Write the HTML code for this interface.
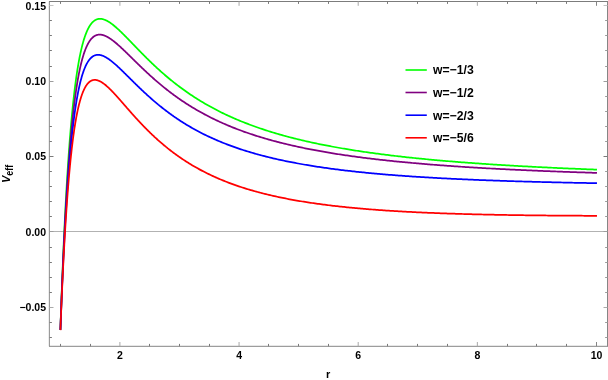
<!DOCTYPE html>
<html><head><meta charset="utf-8"><title>Veff</title>
<style>
html,body{margin:0;padding:0;background:#fff;}
body{width:608px;height:380px;position:relative;overflow:hidden;font-family:"Liberation Sans",sans-serif;font-weight:bold;color:#000;}
.t{position:absolute;white-space:nowrap;line-height:1;}
#tx{position:absolute;left:0;top:0;width:608px;height:380px;will-change:transform;}
.yl{font-size:10.5px;text-align:right;width:40px;left:6px;}
.xl{font-size:10.5px;text-align:center;width:30px;}
.lg{font-size:12.2px;left:433px;}
</style></head><body>
<svg width="608" height="380" viewBox="0 0 608 380" style="position:absolute;left:0;top:0">
<line x1="49.50" y1="231.50" x2="607.50" y2="231.50" stroke="#b2b2b2" stroke-width="1"/>
<path d="M60.41 329.78 L60.71 320.91 L61.01 312.29 L61.30 303.89 L61.60 295.73 L61.90 287.78 L62.20 280.05 L62.50 272.53 L62.80 265.21 L63.09 258.09 L63.39 251.15 L63.69 244.41 L63.99 237.84 L64.29 231.45 L64.59 225.23 L64.89 219.18 L65.18 213.29 L65.48 207.56 L65.78 201.98 L66.08 196.55 L66.38 191.26 L66.68 186.12 L66.97 181.11 L67.27 176.23 L67.57 171.49 L67.87 166.87 L68.17 162.38 L68.47 158.01 L68.76 153.75 L69.06 149.61 L69.36 145.57 L69.66 141.65 L69.96 137.83 L70.26 134.11 L70.55 130.49 L70.85 126.97 L71.15 123.55 L71.45 120.21 L71.75 116.97 L72.05 113.81 L72.35 110.74 L72.64 107.76 L72.94 104.85 L73.24 102.02 L73.54 99.27 L73.84 96.60 L74.14 93.99 L74.43 91.46 L74.73 89.00 L75.03 86.61 L75.33 84.28 L75.63 82.01 L75.93 79.81 L76.22 77.68 L76.52 75.60 L76.82 73.57 L77.12 71.61 L77.42 69.70 L77.72 67.85 L78.01 66.05 L78.31 64.29 L78.61 62.59 L78.91 60.94 L79.21 59.34 L79.51 57.78 L79.81 56.27 L80.10 54.81 L80.40 53.38 L80.70 52.00 L81.00 50.66 L81.30 49.36 L81.60 48.10 L81.89 46.88 L82.19 45.70 L82.49 44.55 L82.79 43.44 L83.09 42.36 L83.39 41.32 L83.68 40.31 L83.98 39.33 L84.28 38.39 L84.58 37.47 L84.88 36.59 L85.18 35.73 L85.47 34.90 L85.77 34.11 L86.07 33.34 L86.37 32.59 L86.67 31.87 L86.97 31.18 L87.27 30.51 L87.56 29.87 L87.86 29.25 L88.16 28.65 L88.46 28.08 L88.76 27.53 L89.06 27.00 L89.35 26.49 L89.65 26.00 L89.95 25.54 L90.25 25.09 L90.55 24.66 L90.85 24.25 L91.14 23.86 L91.44 23.48 L91.74 23.13 L92.04 22.79 L92.34 22.46 L92.64 22.16 L92.93 21.87 L93.23 21.59 L93.53 21.33 L93.83 21.09 L94.13 20.86 L94.43 20.64 L94.73 20.44 L95.02 20.25 L95.32 20.07 L95.62 19.91 L95.92 19.76 L96.22 19.62 L96.52 19.50 L96.81 19.38 L97.11 19.28 L97.41 19.19 L97.71 19.11 L98.01 19.03 L98.31 18.97 L98.60 18.93 L98.90 18.89 L99.20 18.85 L99.50 18.83 L99.80 18.82 L100.10 18.82 L100.39 18.83 L100.69 18.84 L100.99 18.86 L101.29 18.89 L101.59 18.93 L101.89 18.98 L102.19 19.04 L102.48 19.10 L102.78 19.17 L103.08 19.24 L103.38 19.33 L103.68 19.42 L103.98 19.51 L104.27 19.62 L104.57 19.72 L104.87 19.84 L105.17 19.96 L105.47 20.09 L105.77 20.22 L106.06 20.36 L106.36 20.50 L106.66 20.65 L106.96 20.80 L107.26 20.96 L107.56 21.13 L107.85 21.30 L108.15 21.47 L108.45 21.65 L108.75 21.83 L109.05 22.01 L109.35 22.20 L109.64 22.40 L109.94 22.60 L110.24 22.80 L110.54 23.01 L110.84 23.22 L111.14 23.43 L111.44 23.64 L111.73 23.86 L112.03 24.09 L112.33 24.31 L112.63 24.54 L112.93 24.78 L113.23 25.01 L113.52 25.25 L113.82 25.49 L114.12 25.73 L114.42 25.98 L114.72 26.23 L115.02 26.48 L115.31 26.74 L115.61 26.99 L115.91 27.25 L116.21 27.51 L116.51 27.77 L116.81 28.04 L117.10 28.30 L117.40 28.57 L117.70 28.84 L118.00 29.12 L118.30 29.39 L118.60 29.67 L118.90 29.94 L119.19 30.22 L119.49 30.50 L119.79 30.78 L120.09 31.07 L120.39 31.35 L120.69 31.64 L120.98 31.93 L121.28 32.21 L121.58 32.50 L121.88 32.80 L122.18 33.09 L122.48 33.38 L122.77 33.68 L123.07 33.97 L123.37 34.27 L123.67 34.56 L123.97 34.86 L124.27 35.16 L124.56 35.46 L124.86 35.76 L125.16 36.06 L125.46 36.36 L125.76 36.67 L126.06 36.97 L126.36 37.27 L126.65 37.58 L126.95 37.88 L127.25 38.19 L127.55 38.49 L127.85 38.80 L128.15 39.11 L128.44 39.41 L128.74 39.72 L129.04 40.03 L129.34 40.34 L129.64 40.64 L129.94 40.95 L130.23 41.26 L130.53 41.57 L130.83 41.88 L131.13 42.19 L131.43 42.50 L131.73 42.81 L132.02 43.12 L132.32 43.43 L132.62 43.74 L132.92 44.04 L133.22 44.35 L133.52 44.66 L133.82 44.97 L134.11 45.28 L134.41 45.59 L134.71 45.90 L135.01 46.21 L135.31 46.52 L135.61 46.83 L135.90 47.14 L136.20 47.45 L136.50 47.76 L136.80 48.07 L137.10 48.37 L137.40 48.68 L137.69 48.99 L137.99 49.30 L138.29 49.61 L138.59 49.91 L138.89 50.22 L139.19 50.53 L139.48 50.83 L139.78 51.14 L140.08 51.44 L140.38 51.75 L140.68 52.05 L140.98 52.36 L141.28 52.66 L141.57 52.97 L141.87 53.27 L142.17 53.57 L142.47 53.87 L142.77 54.18 L143.07 54.48 L143.36 54.78 L143.66 55.08 L143.96 55.38 L144.26 55.68 L144.56 55.98 L144.86 56.28 L145.15 56.58 L145.45 56.88 L145.75 57.17 L146.05 57.47 L146.35 57.77 L146.65 58.06 L146.94 58.36 L147.24 58.65 L147.54 58.95 L147.84 59.24 L148.14 59.53 L148.44 59.83 L148.74 60.12 L149.03 60.41 L149.33 60.70 L149.63 60.99 L149.93 61.28 L150.23 61.57 L150.53 61.86 L150.82 62.15 L151.12 62.44 L151.42 62.72 L151.72 63.01 L152.02 63.29 L152.32 63.58 L152.61 63.86 L152.91 64.15 L153.21 64.43 L153.51 64.71 L153.81 65.00 L154.11 65.28 L154.40 65.56 L154.70 65.84 L155.00 66.12 L155.30 66.40 L155.60 66.67 L155.90 66.95 L156.19 67.23 L156.49 67.50 L156.79 67.78 L157.09 68.05 L157.39 68.33 L157.69 68.60 L157.99 68.88 L158.28 69.15 L158.58 69.42 L158.88 69.69 L159.18 69.96 L159.48 70.23 L159.78 70.50 L160.07 70.77 L160.37 71.03 L160.67 71.30 L160.97 71.57 L161.27 71.83 L161.57 72.10 L161.86 72.36 L162.16 72.62 L162.46 72.89 L162.76 73.15 L163.06 73.41 L163.36 73.67 L163.65 73.93 L163.95 74.19 L164.25 74.45 L164.55 74.71 L164.85 74.96 L165.15 75.22 L165.45 75.48 L165.74 75.73 L166.04 75.99 L166.34 76.24 L166.64 76.49 L166.94 76.75 L167.24 77.00 L167.53 77.25 L167.83 77.50 L168.13 77.75 L168.43 78.00 L168.73 78.25 L169.03 78.49 L169.32 78.74 L169.62 78.99 L169.92 79.23 L170.22 79.48 L170.52 79.72 L170.82 79.97 L171.11 80.21 L171.41 80.45 L171.71 80.69 L172.01 80.93 L172.31 81.17 L172.61 81.41 L172.91 81.65 L173.20 81.89 L173.50 82.13 L173.80 82.36 L174.10 82.60 L174.40 82.84 L174.70 83.07 L174.99 83.30 L175.29 83.54 L175.59 83.77 L175.89 84.00 L176.19 84.23 L176.49 84.46 L176.78 84.69 L177.08 84.92 L177.38 85.15 L177.68 85.38 L177.98 85.61 L178.28 85.83 L178.57 86.06 L178.87 86.29 L179.17 86.51 L179.47 86.74 L180.87 87.78 L182.26 88.80 L183.66 89.81 L185.06 90.81 L186.45 91.80 L187.85 92.77 L189.24 93.72 L190.64 94.67 L192.04 95.60 L193.43 96.52 L194.83 97.42 L196.23 98.31 L197.62 99.19 L199.02 100.06 L200.41 100.92 L201.81 101.76 L203.21 102.59 L204.60 103.41 L206.00 104.22 L207.40 105.02 L208.79 105.80 L210.19 106.58 L211.59 107.34 L212.98 108.10 L214.38 108.84 L215.77 109.58 L217.17 110.30 L218.57 111.01 L219.96 111.72 L221.36 112.41 L222.76 113.09 L224.15 113.77 L225.55 114.43 L226.95 115.09 L228.34 115.74 L229.74 116.38 L231.13 117.01 L232.53 117.63 L233.93 118.24 L235.32 118.85 L236.72 119.44 L238.12 120.03 L239.51 120.61 L240.91 121.19 L242.30 121.75 L243.70 122.31 L245.10 122.86 L246.49 123.41 L247.89 123.94 L249.29 124.47 L250.68 125.00 L252.08 125.51 L253.48 126.02 L254.87 126.52 L256.27 127.02 L257.66 127.51 L259.06 127.99 L260.46 128.47 L261.85 128.94 L263.25 129.41 L264.65 129.87 L266.04 130.32 L267.44 130.77 L268.83 131.21 L270.23 131.65 L271.63 132.08 L273.02 132.50 L274.42 132.93 L275.82 133.34 L277.21 133.75 L278.61 134.16 L280.01 134.56 L281.40 134.95 L282.80 135.34 L284.19 135.73 L285.59 136.11 L286.99 136.49 L288.38 136.86 L289.78 137.23 L291.18 137.59 L292.57 137.95 L293.97 138.31 L295.37 138.66 L296.76 139.00 L298.16 139.35 L299.55 139.69 L300.95 140.02 L302.35 140.35 L303.74 140.68 L305.14 141.00 L306.54 141.32 L307.93 141.64 L309.33 141.95 L310.72 142.26 L312.12 142.56 L313.52 142.86 L314.91 143.16 L316.31 143.46 L317.71 143.75 L319.10 144.04 L320.50 144.32 L321.90 144.61 L323.29 144.88 L324.69 145.16 L326.08 145.43 L327.48 145.70 L328.88 145.97 L330.27 146.23 L331.67 146.50 L333.07 146.75 L334.46 147.01 L335.86 147.26 L337.25 147.51 L338.65 147.76 L340.05 148.01 L341.44 148.25 L342.84 148.49 L344.24 148.72 L345.63 148.96 L347.03 149.19 L348.43 149.42 L349.82 149.65 L351.22 149.87 L352.61 150.10 L354.01 150.32 L355.41 150.54 L356.80 150.75 L358.20 150.97 L359.60 151.18 L360.99 151.39 L362.39 151.59 L363.79 151.80 L365.18 152.00 L366.58 152.20 L367.97 152.40 L369.37 152.60 L370.77 152.80 L372.16 152.99 L373.56 153.18 L374.96 153.37 L376.35 153.56 L377.75 153.74 L379.14 153.93 L380.54 154.11 L381.94 154.29 L383.33 154.47 L384.73 154.65 L386.13 154.82 L387.52 154.99 L388.92 155.17 L390.32 155.34 L391.71 155.51 L393.11 155.67 L394.50 155.84 L395.90 156.00 L397.30 156.16 L398.69 156.33 L400.09 156.49 L401.49 156.64 L402.88 156.80 L404.28 156.95 L405.67 157.11 L407.07 157.26 L408.47 157.41 L409.86 157.56 L411.26 157.71 L412.66 157.86 L414.05 158.00 L415.45 158.15 L416.85 158.29 L418.24 158.43 L419.64 158.57 L421.03 158.71 L422.43 158.85 L423.83 158.98 L425.22 159.12 L426.62 159.25 L428.02 159.39 L429.41 159.52 L430.81 159.65 L432.21 159.78 L433.60 159.91 L435.00 160.03 L436.39 160.16 L437.79 160.28 L439.19 160.41 L440.58 160.53 L441.98 160.65 L443.38 160.77 L444.77 160.89 L446.17 161.01 L447.56 161.13 L448.96 161.25 L450.36 161.36 L451.75 161.48 L453.15 161.59 L454.55 161.70 L455.94 161.82 L457.34 161.93 L458.74 162.04 L460.13 162.15 L461.53 162.26 L462.92 162.36 L464.32 162.47 L465.72 162.58 L467.11 162.68 L468.51 162.78 L469.91 162.89 L471.30 162.99 L472.70 163.09 L474.09 163.19 L475.49 163.29 L476.89 163.39 L478.28 163.49 L479.68 163.59 L481.08 163.68 L482.47 163.78 L483.87 163.87 L485.27 163.97 L486.66 164.06 L488.06 164.15 L489.45 164.25 L490.85 164.34 L492.25 164.43 L493.64 164.52 L495.04 164.61 L496.44 164.70 L497.83 164.79 L499.23 164.87 L500.63 164.96 L502.02 165.04 L503.42 165.13 L504.81 165.21 L506.21 165.30 L507.61 165.38 L509.00 165.47 L510.40 165.55 L511.80 165.63 L513.19 165.71 L514.59 165.79 L515.98 165.87 L517.38 165.95 L518.78 166.03 L520.17 166.11 L521.57 166.18 L522.97 166.26 L524.36 166.34 L525.76 166.41 L527.16 166.49 L528.55 166.56 L529.95 166.63 L531.34 166.71 L532.74 166.78 L534.14 166.85 L535.53 166.93 L536.93 167.00 L538.33 167.07 L539.72 167.14 L541.12 167.21 L542.51 167.28 L543.91 167.35 L545.31 167.41 L546.70 167.48 L548.10 167.55 L549.50 167.62 L550.89 167.68 L552.29 167.75 L553.69 167.81 L555.08 167.88 L556.48 167.94 L557.87 168.01 L559.27 168.07 L560.67 168.14 L562.06 168.20 L563.46 168.26 L564.86 168.32 L566.25 168.38 L567.65 168.45 L569.05 168.51 L570.44 168.57 L571.84 168.63 L573.23 168.69 L574.63 168.74 L576.03 168.80 L577.42 168.86 L578.82 168.92 L580.22 168.98 L581.61 169.03 L583.01 169.09 L584.40 169.15 L585.80 169.20 L587.20 169.26 L588.59 169.31 L589.99 169.37 L591.39 169.42 L592.78 169.48 L594.18 169.53 L595.58 169.58 L596.97 169.64" fill="none" stroke="#00ff00" stroke-width="1.75" stroke-linejoin="round"/>
<path d="M60.41 329.89 L60.71 321.40 L61.01 313.13 L61.30 305.10 L61.60 297.28 L61.90 289.67 L62.20 282.27 L62.50 275.07 L62.80 268.07 L63.09 261.26 L63.39 254.63 L63.69 248.18 L63.99 241.90 L64.29 235.80 L64.59 229.85 L64.89 224.07 L65.18 218.45 L65.48 212.98 L65.78 207.65 L66.08 202.47 L66.38 197.42 L66.68 192.52 L66.97 187.74 L67.27 183.10 L67.57 178.57 L67.87 174.18 L68.17 169.89 L68.47 165.73 L68.76 161.68 L69.06 157.73 L69.36 153.89 L69.66 150.16 L69.96 146.53 L70.26 142.99 L70.55 139.55 L70.85 136.21 L71.15 132.95 L71.45 129.79 L71.75 126.71 L72.05 123.71 L72.35 120.80 L72.64 117.96 L72.94 115.20 L73.24 112.52 L73.54 109.92 L73.84 107.38 L74.14 104.91 L74.43 102.52 L74.73 100.19 L75.03 97.92 L75.33 95.72 L75.63 93.58 L75.93 91.50 L76.22 89.47 L76.52 87.51 L76.82 85.60 L77.12 83.75 L77.42 81.94 L77.72 80.19 L78.01 78.49 L78.31 76.84 L78.61 75.24 L78.91 73.68 L79.21 72.17 L79.51 70.71 L79.81 69.29 L80.10 67.91 L80.40 66.57 L80.70 65.27 L81.00 64.01 L81.30 62.79 L81.60 61.61 L81.89 60.46 L82.19 59.35 L82.49 58.28 L82.79 57.24 L83.09 56.23 L83.39 55.25 L83.68 54.31 L83.98 53.39 L84.28 52.51 L84.58 51.65 L84.88 50.83 L85.18 50.03 L85.47 49.26 L85.77 48.52 L86.07 47.80 L86.37 47.11 L86.67 46.44 L86.97 45.80 L87.27 45.18 L87.56 44.58 L87.86 44.01 L88.16 43.46 L88.46 42.93 L88.76 42.42 L89.06 41.93 L89.35 41.46 L89.65 41.01 L89.95 40.58 L90.25 40.17 L90.55 39.77 L90.85 39.40 L91.14 39.04 L91.44 38.70 L91.74 38.37 L92.04 38.07 L92.34 37.77 L92.64 37.49 L92.93 37.23 L93.23 36.98 L93.53 36.75 L93.83 36.53 L94.13 36.32 L94.43 36.13 L94.73 35.95 L95.02 35.78 L95.32 35.63 L95.62 35.49 L95.92 35.36 L96.22 35.24 L96.52 35.13 L96.81 35.03 L97.11 34.95 L97.41 34.87 L97.71 34.80 L98.01 34.75 L98.31 34.70 L98.60 34.67 L98.90 34.64 L99.20 34.62 L99.50 34.61 L99.80 34.61 L100.10 34.62 L100.39 34.64 L100.69 34.66 L100.99 34.69 L101.29 34.73 L101.59 34.78 L101.89 34.83 L102.19 34.89 L102.48 34.96 L102.78 35.04 L103.08 35.12 L103.38 35.21 L103.68 35.30 L103.98 35.40 L104.27 35.51 L104.57 35.62 L104.87 35.74 L105.17 35.86 L105.47 35.99 L105.77 36.12 L106.06 36.26 L106.36 36.41 L106.66 36.56 L106.96 36.71 L107.26 36.87 L107.56 37.03 L107.85 37.20 L108.15 37.37 L108.45 37.54 L108.75 37.72 L109.05 37.91 L109.35 38.09 L109.64 38.29 L109.94 38.48 L110.24 38.68 L110.54 38.88 L110.84 39.09 L111.14 39.29 L111.44 39.51 L111.73 39.72 L112.03 39.94 L112.33 40.16 L112.63 40.38 L112.93 40.61 L113.23 40.84 L113.52 41.07 L113.82 41.30 L114.12 41.54 L114.42 41.78 L114.72 42.02 L115.02 42.26 L115.31 42.51 L115.61 42.75 L115.91 43.00 L116.21 43.25 L116.51 43.51 L116.81 43.76 L117.10 44.02 L117.40 44.28 L117.70 44.54 L118.00 44.80 L118.30 45.06 L118.60 45.33 L118.90 45.60 L119.19 45.86 L119.49 46.13 L119.79 46.40 L120.09 46.68 L120.39 46.95 L120.69 47.22 L120.98 47.50 L121.28 47.78 L121.58 48.05 L121.88 48.33 L122.18 48.61 L122.48 48.89 L122.77 49.17 L123.07 49.46 L123.37 49.74 L123.67 50.02 L123.97 50.31 L124.27 50.59 L124.56 50.88 L124.86 51.17 L125.16 51.45 L125.46 51.74 L125.76 52.03 L126.06 52.32 L126.36 52.61 L126.65 52.90 L126.95 53.19 L127.25 53.48 L127.55 53.77 L127.85 54.06 L128.15 54.35 L128.44 54.64 L128.74 54.94 L129.04 55.23 L129.34 55.52 L129.64 55.81 L129.94 56.11 L130.23 56.40 L130.53 56.69 L130.83 56.99 L131.13 57.28 L131.43 57.57 L131.73 57.87 L132.02 58.16 L132.32 58.45 L132.62 58.75 L132.92 59.04 L133.22 59.33 L133.52 59.63 L133.82 59.92 L134.11 60.21 L134.41 60.51 L134.71 60.80 L135.01 61.09 L135.31 61.39 L135.61 61.68 L135.90 61.97 L136.20 62.26 L136.50 62.56 L136.80 62.85 L137.10 63.14 L137.40 63.43 L137.69 63.72 L137.99 64.01 L138.29 64.30 L138.59 64.59 L138.89 64.88 L139.19 65.17 L139.48 65.46 L139.78 65.75 L140.08 66.04 L140.38 66.32 L140.68 66.61 L140.98 66.90 L141.28 67.18 L141.57 67.47 L141.87 67.76 L142.17 68.04 L142.47 68.33 L142.77 68.61 L143.07 68.90 L143.36 69.18 L143.66 69.46 L143.96 69.75 L144.26 70.03 L144.56 70.31 L144.86 70.59 L145.15 70.87 L145.45 71.15 L145.75 71.43 L146.05 71.71 L146.35 71.99 L146.65 72.27 L146.94 72.54 L147.24 72.82 L147.54 73.10 L147.84 73.37 L148.14 73.65 L148.44 73.92 L148.74 74.20 L149.03 74.47 L149.33 74.74 L149.63 75.02 L149.93 75.29 L150.23 75.56 L150.53 75.83 L150.82 76.10 L151.12 76.37 L151.42 76.64 L151.72 76.91 L152.02 77.18 L152.32 77.44 L152.61 77.71 L152.91 77.98 L153.21 78.24 L153.51 78.50 L153.81 78.77 L154.11 79.03 L154.40 79.29 L154.70 79.56 L155.00 79.82 L155.30 80.08 L155.60 80.34 L155.90 80.60 L156.19 80.86 L156.49 81.12 L156.79 81.37 L157.09 81.63 L157.39 81.89 L157.69 82.14 L157.99 82.40 L158.28 82.65 L158.58 82.90 L158.88 83.16 L159.18 83.41 L159.48 83.66 L159.78 83.91 L160.07 84.16 L160.37 84.41 L160.67 84.66 L160.97 84.91 L161.27 85.16 L161.57 85.40 L161.86 85.65 L162.16 85.90 L162.46 86.14 L162.76 86.38 L163.06 86.63 L163.36 86.87 L163.65 87.11 L163.95 87.35 L164.25 87.60 L164.55 87.84 L164.85 88.08 L165.15 88.31 L165.45 88.55 L165.74 88.79 L166.04 89.03 L166.34 89.26 L166.64 89.50 L166.94 89.73 L167.24 89.97 L167.53 90.20 L167.83 90.43 L168.13 90.67 L168.43 90.90 L168.73 91.13 L169.03 91.36 L169.32 91.59 L169.62 91.82 L169.92 92.05 L170.22 92.27 L170.52 92.50 L170.82 92.73 L171.11 92.95 L171.41 93.18 L171.71 93.40 L172.01 93.62 L172.31 93.85 L172.61 94.07 L172.91 94.29 L173.20 94.51 L173.50 94.73 L173.80 94.95 L174.10 95.17 L174.40 95.39 L174.70 95.61 L174.99 95.82 L175.29 96.04 L175.59 96.26 L175.89 96.47 L176.19 96.68 L176.49 96.90 L176.78 97.11 L177.08 97.32 L177.38 97.54 L177.68 97.75 L177.98 97.96 L178.28 98.17 L178.57 98.38 L178.87 98.59 L179.17 98.79 L179.47 99.00 L180.87 99.96 L182.26 100.91 L183.66 101.85 L185.06 102.77 L186.45 103.68 L187.85 104.57 L189.24 105.45 L190.64 106.32 L192.04 107.18 L193.43 108.03 L194.83 108.86 L196.23 109.68 L197.62 110.49 L199.02 111.28 L200.41 112.07 L201.81 112.84 L203.21 113.60 L204.60 114.36 L206.00 115.10 L207.40 115.83 L208.79 116.55 L210.19 117.26 L211.59 117.95 L212.98 118.64 L214.38 119.32 L215.77 119.99 L217.17 120.65 L218.57 121.30 L219.96 121.94 L221.36 122.57 L222.76 123.20 L224.15 123.81 L225.55 124.42 L226.95 125.01 L228.34 125.60 L229.74 126.18 L231.13 126.75 L232.53 127.32 L233.93 127.87 L235.32 128.42 L236.72 128.96 L238.12 129.50 L239.51 130.02 L240.91 130.54 L242.30 131.05 L243.70 131.56 L245.10 132.05 L246.49 132.54 L247.89 133.03 L249.29 133.51 L250.68 133.98 L252.08 134.44 L253.48 134.90 L254.87 135.35 L256.27 135.80 L257.66 136.24 L259.06 136.67 L260.46 137.10 L261.85 137.53 L263.25 137.94 L264.65 138.36 L266.04 138.76 L267.44 139.16 L268.83 139.56 L270.23 139.95 L271.63 140.34 L273.02 140.72 L274.42 141.10 L275.82 141.47 L277.21 141.83 L278.61 142.20 L280.01 142.55 L281.40 142.91 L282.80 143.26 L284.19 143.60 L285.59 143.94 L286.99 144.27 L288.38 144.61 L289.78 144.93 L291.18 145.26 L292.57 145.58 L293.97 145.89 L295.37 146.20 L296.76 146.51 L298.16 146.82 L299.55 147.12 L300.95 147.41 L302.35 147.71 L303.74 148.00 L305.14 148.28 L306.54 148.56 L307.93 148.84 L309.33 149.12 L310.72 149.39 L312.12 149.66 L313.52 149.93 L314.91 150.19 L316.31 150.45 L317.71 150.71 L319.10 150.96 L320.50 151.22 L321.90 151.46 L323.29 151.71 L324.69 151.95 L326.08 152.19 L327.48 152.43 L328.88 152.67 L330.27 152.90 L331.67 153.13 L333.07 153.35 L334.46 153.58 L335.86 153.80 L337.25 154.02 L338.65 154.24 L340.05 154.45 L341.44 154.66 L342.84 154.87 L344.24 155.08 L345.63 155.29 L347.03 155.49 L348.43 155.69 L349.82 155.89 L351.22 156.09 L352.61 156.28 L354.01 156.47 L355.41 156.66 L356.80 156.85 L358.20 157.04 L359.60 157.22 L360.99 157.40 L362.39 157.58 L363.79 157.76 L365.18 157.94 L366.58 158.11 L367.97 158.29 L369.37 158.46 L370.77 158.63 L372.16 158.80 L373.56 158.96 L374.96 159.13 L376.35 159.29 L377.75 159.45 L379.14 159.61 L380.54 159.77 L381.94 159.92 L383.33 160.08 L384.73 160.23 L386.13 160.38 L387.52 160.53 L388.92 160.68 L390.32 160.83 L391.71 160.97 L393.11 161.12 L394.50 161.26 L395.90 161.40 L397.30 161.54 L398.69 161.68 L400.09 161.82 L401.49 161.95 L402.88 162.09 L404.28 162.22 L405.67 162.35 L407.07 162.48 L408.47 162.61 L409.86 162.74 L411.26 162.87 L412.66 163.00 L414.05 163.12 L415.45 163.24 L416.85 163.37 L418.24 163.49 L419.64 163.61 L421.03 163.73 L422.43 163.84 L423.83 163.96 L425.22 164.08 L426.62 164.19 L428.02 164.31 L429.41 164.42 L430.81 164.53 L432.21 164.64 L433.60 164.75 L435.00 164.86 L436.39 164.97 L437.79 165.07 L439.19 165.18 L440.58 165.28 L441.98 165.39 L443.38 165.49 L444.77 165.59 L446.17 165.69 L447.56 165.79 L448.96 165.89 L450.36 165.99 L451.75 166.09 L453.15 166.18 L454.55 166.28 L455.94 166.37 L457.34 166.47 L458.74 166.56 L460.13 166.65 L461.53 166.75 L462.92 166.84 L464.32 166.93 L465.72 167.02 L467.11 167.10 L468.51 167.19 L469.91 167.28 L471.30 167.37 L472.70 167.45 L474.09 167.54 L475.49 167.62 L476.89 167.70 L478.28 167.79 L479.68 167.87 L481.08 167.95 L482.47 168.03 L483.87 168.11 L485.27 168.19 L486.66 168.27 L488.06 168.35 L489.45 168.42 L490.85 168.50 L492.25 168.58 L493.64 168.65 L495.04 168.73 L496.44 168.80 L497.83 168.88 L499.23 168.95 L500.63 169.02 L502.02 169.09 L503.42 169.16 L504.81 169.24 L506.21 169.31 L507.61 169.38 L509.00 169.44 L510.40 169.51 L511.80 169.58 L513.19 169.65 L514.59 169.72 L515.98 169.78 L517.38 169.85 L518.78 169.91 L520.17 169.98 L521.57 170.04 L522.97 170.11 L524.36 170.17 L525.76 170.23 L527.16 170.30 L528.55 170.36 L529.95 170.42 L531.34 170.48 L532.74 170.54 L534.14 170.60 L535.53 170.66 L536.93 170.72 L538.33 170.78 L539.72 170.84 L541.12 170.90 L542.51 170.95 L543.91 171.01 L545.31 171.07 L546.70 171.12 L548.10 171.18 L549.50 171.23 L550.89 171.29 L552.29 171.34 L553.69 171.40 L555.08 171.45 L556.48 171.50 L557.87 171.56 L559.27 171.61 L560.67 171.66 L562.06 171.71 L563.46 171.77 L564.86 171.82 L566.25 171.87 L567.65 171.92 L569.05 171.97 L570.44 172.02 L571.84 172.07 L573.23 172.11 L574.63 172.16 L576.03 172.21 L577.42 172.26 L578.82 172.31 L580.22 172.35 L581.61 172.40 L583.01 172.45 L584.40 172.49 L585.80 172.54 L587.20 172.58 L588.59 172.63 L589.99 172.67 L591.39 172.72 L592.78 172.76 L594.18 172.81 L595.58 172.85 L596.97 172.89" fill="none" stroke="#800080" stroke-width="1.75" stroke-linejoin="round"/>
<path d="M60.41 330.01 L60.71 321.88 L61.01 313.98 L61.30 306.31 L61.60 298.84 L61.90 291.58 L62.20 284.52 L62.50 277.66 L62.80 270.99 L63.09 264.50 L63.39 258.19 L63.69 252.05 L63.99 246.08 L64.29 240.28 L64.59 234.64 L64.89 229.15 L65.18 223.81 L65.48 218.62 L65.78 213.58 L66.08 208.67 L66.38 203.89 L66.68 199.25 L66.97 194.74 L67.27 190.35 L67.57 186.08 L67.87 181.93 L68.17 177.89 L68.47 173.96 L68.76 170.15 L69.06 166.43 L69.36 162.82 L69.66 159.32 L69.96 155.90 L70.26 152.59 L70.55 149.36 L70.85 146.23 L71.15 143.18 L71.45 140.22 L71.75 137.34 L72.05 134.54 L72.35 131.82 L72.64 129.17 L72.94 126.60 L73.24 124.11 L73.54 121.68 L73.84 119.33 L74.14 117.04 L74.43 114.81 L74.73 112.65 L75.03 110.56 L75.33 108.52 L75.63 106.54 L75.93 104.62 L76.22 102.76 L76.52 100.95 L76.82 99.19 L77.12 97.48 L77.42 95.83 L77.72 94.23 L78.01 92.67 L78.31 91.16 L78.61 89.70 L78.91 88.28 L79.21 86.90 L79.51 85.57 L79.81 84.28 L80.10 83.03 L80.40 81.82 L80.70 80.64 L81.00 79.51 L81.30 78.41 L81.60 77.34 L81.89 76.31 L82.19 75.32 L82.49 74.36 L82.79 73.43 L83.09 72.53 L83.39 71.66 L83.68 70.82 L83.98 70.01 L84.28 69.23 L84.58 68.48 L84.88 67.75 L85.18 67.06 L85.47 66.38 L85.77 65.73 L86.07 65.11 L86.37 64.51 L86.67 63.94 L86.97 63.38 L87.27 62.85 L87.56 62.34 L87.86 61.85 L88.16 61.39 L88.46 60.94 L88.76 60.51 L89.06 60.10 L89.35 59.71 L89.65 59.34 L89.95 58.99 L90.25 58.65 L90.55 58.33 L90.85 58.03 L91.14 57.74 L91.44 57.47 L91.74 57.22 L92.04 56.98 L92.34 56.75 L92.64 56.54 L92.93 56.34 L93.23 56.16 L93.53 55.99 L93.83 55.83 L94.13 55.69 L94.43 55.56 L94.73 55.43 L95.02 55.33 L95.32 55.23 L95.62 55.14 L95.92 55.07 L96.22 55.00 L96.52 54.95 L96.81 54.91 L97.11 54.87 L97.41 54.85 L97.71 54.83 L98.01 54.83 L98.31 54.83 L98.60 54.84 L98.90 54.86 L99.20 54.89 L99.50 54.93 L99.80 54.97 L100.10 55.02 L100.39 55.08 L100.69 55.15 L100.99 55.22 L101.29 55.30 L101.59 55.39 L101.89 55.49 L102.19 55.59 L102.48 55.69 L102.78 55.81 L103.08 55.93 L103.38 56.05 L103.68 56.18 L103.98 56.32 L104.27 56.46 L104.57 56.60 L104.87 56.75 L105.17 56.91 L105.47 57.07 L105.77 57.24 L106.06 57.41 L106.36 57.58 L106.66 57.76 L106.96 57.95 L107.26 58.13 L107.56 58.32 L107.85 58.52 L108.15 58.72 L108.45 58.92 L108.75 59.13 L109.05 59.34 L109.35 59.55 L109.64 59.77 L109.94 59.98 L110.24 60.21 L110.54 60.43 L110.84 60.66 L111.14 60.89 L111.44 61.12 L111.73 61.36 L112.03 61.60 L112.33 61.84 L112.63 62.08 L112.93 62.33 L113.23 62.58 L113.52 62.83 L113.82 63.08 L114.12 63.34 L114.42 63.59 L114.72 63.85 L115.02 64.11 L115.31 64.37 L115.61 64.64 L115.91 64.90 L116.21 65.17 L116.51 65.44 L116.81 65.71 L117.10 65.98 L117.40 66.26 L117.70 66.53 L118.00 66.81 L118.30 67.08 L118.60 67.36 L118.90 67.64 L119.19 67.92 L119.49 68.20 L119.79 68.48 L120.09 68.77 L120.39 69.05 L120.69 69.34 L120.98 69.62 L121.28 69.91 L121.58 70.20 L121.88 70.49 L122.18 70.77 L122.48 71.06 L122.77 71.35 L123.07 71.65 L123.37 71.94 L123.67 72.23 L123.97 72.52 L124.27 72.81 L124.56 73.11 L124.86 73.40 L125.16 73.69 L125.46 73.99 L125.76 74.28 L126.06 74.58 L126.36 74.87 L126.65 75.17 L126.95 75.46 L127.25 75.76 L127.55 76.06 L127.85 76.35 L128.15 76.65 L128.44 76.94 L128.74 77.24 L129.04 77.54 L129.34 77.83 L129.64 78.13 L129.94 78.42 L130.23 78.72 L130.53 79.02 L130.83 79.31 L131.13 79.61 L131.43 79.90 L131.73 80.20 L132.02 80.49 L132.32 80.79 L132.62 81.08 L132.92 81.38 L133.22 81.67 L133.52 81.97 L133.82 82.26 L134.11 82.56 L134.41 82.85 L134.71 83.14 L135.01 83.43 L135.31 83.73 L135.61 84.02 L135.90 84.31 L136.20 84.60 L136.50 84.89 L136.80 85.18 L137.10 85.47 L137.40 85.76 L137.69 86.05 L137.99 86.34 L138.29 86.63 L138.59 86.92 L138.89 87.21 L139.19 87.49 L139.48 87.78 L139.78 88.07 L140.08 88.35 L140.38 88.64 L140.68 88.92 L140.98 89.21 L141.28 89.49 L141.57 89.77 L141.87 90.06 L142.17 90.34 L142.47 90.62 L142.77 90.90 L143.07 91.18 L143.36 91.46 L143.66 91.74 L143.96 92.02 L144.26 92.29 L144.56 92.57 L144.86 92.85 L145.15 93.12 L145.45 93.40 L145.75 93.67 L146.05 93.95 L146.35 94.22 L146.65 94.50 L146.94 94.77 L147.24 95.04 L147.54 95.31 L147.84 95.58 L148.14 95.85 L148.44 96.12 L148.74 96.39 L149.03 96.66 L149.33 96.92 L149.63 97.19 L149.93 97.45 L150.23 97.72 L150.53 97.98 L150.82 98.25 L151.12 98.51 L151.42 98.77 L151.72 99.03 L152.02 99.29 L152.32 99.55 L152.61 99.81 L152.91 100.07 L153.21 100.33 L153.51 100.59 L153.81 100.85 L154.11 101.10 L154.40 101.36 L154.70 101.61 L155.00 101.86 L155.30 102.12 L155.60 102.37 L155.90 102.62 L156.19 102.87 L156.49 103.12 L156.79 103.37 L157.09 103.62 L157.39 103.87 L157.69 104.12 L157.99 104.36 L158.28 104.61 L158.58 104.85 L158.88 105.10 L159.18 105.34 L159.48 105.59 L159.78 105.83 L160.07 106.07 L160.37 106.31 L160.67 106.55 L160.97 106.79 L161.27 107.03 L161.57 107.27 L161.86 107.50 L162.16 107.74 L162.46 107.98 L162.76 108.21 L163.06 108.44 L163.36 108.68 L163.65 108.91 L163.95 109.14 L164.25 109.37 L164.55 109.61 L164.85 109.84 L165.15 110.06 L165.45 110.29 L165.74 110.52 L166.04 110.75 L166.34 110.97 L166.64 111.20 L166.94 111.43 L167.24 111.65 L167.53 111.87 L167.83 112.10 L168.13 112.32 L168.43 112.54 L168.73 112.76 L169.03 112.98 L169.32 113.20 L169.62 113.42 L169.92 113.64 L170.22 113.85 L170.52 114.07 L170.82 114.29 L171.11 114.50 L171.41 114.72 L171.71 114.93 L172.01 115.14 L172.31 115.35 L172.61 115.57 L172.91 115.78 L173.20 115.99 L173.50 116.20 L173.80 116.41 L174.10 116.61 L174.40 116.82 L174.70 117.03 L174.99 117.23 L175.29 117.44 L175.59 117.64 L175.89 117.85 L176.19 118.05 L176.49 118.26 L176.78 118.46 L177.08 118.66 L177.38 118.86 L177.68 119.06 L177.98 119.26 L178.28 119.46 L178.57 119.66 L178.87 119.85 L179.17 120.05 L179.47 120.25 L180.87 121.16 L182.26 122.05 L183.66 122.93 L185.06 123.80 L186.45 124.65 L187.85 125.49 L189.24 126.32 L190.64 127.13 L192.04 127.94 L193.43 128.72 L194.83 129.50 L196.23 130.26 L197.62 131.02 L199.02 131.76 L200.41 132.49 L201.81 133.20 L203.21 133.91 L204.60 134.60 L206.00 135.29 L207.40 135.96 L208.79 136.62 L210.19 137.27 L211.59 137.91 L212.98 138.55 L214.38 139.17 L215.77 139.78 L217.17 140.38 L218.57 140.98 L219.96 141.56 L221.36 142.13 L222.76 142.70 L224.15 143.26 L225.55 143.81 L226.95 144.35 L228.34 144.88 L229.74 145.40 L231.13 145.92 L232.53 146.43 L233.93 146.93 L235.32 147.42 L236.72 147.90 L238.12 148.38 L239.51 148.85 L240.91 149.32 L242.30 149.77 L243.70 150.22 L245.10 150.67 L246.49 151.10 L247.89 151.53 L249.29 151.96 L250.68 152.37 L252.08 152.78 L253.48 153.19 L254.87 153.59 L256.27 153.98 L257.66 154.37 L259.06 154.75 L260.46 155.13 L261.85 155.50 L263.25 155.86 L264.65 156.22 L266.04 156.58 L267.44 156.93 L268.83 157.27 L270.23 157.61 L271.63 157.95 L273.02 158.28 L274.42 158.61 L275.82 158.93 L277.21 159.24 L278.61 159.56 L280.01 159.87 L281.40 160.17 L282.80 160.47 L284.19 160.76 L285.59 161.05 L286.99 161.34 L288.38 161.63 L289.78 161.90 L291.18 162.18 L292.57 162.45 L293.97 162.72 L295.37 162.98 L296.76 163.25 L298.16 163.50 L299.55 163.76 L300.95 164.01 L302.35 164.25 L303.74 164.50 L305.14 164.74 L306.54 164.98 L307.93 165.21 L309.33 165.44 L310.72 165.67 L312.12 165.89 L313.52 166.12 L314.91 166.34 L316.31 166.55 L317.71 166.77 L319.10 166.98 L320.50 167.19 L321.90 167.39 L323.29 167.59 L324.69 167.79 L326.08 167.99 L327.48 168.19 L328.88 168.38 L330.27 168.57 L331.67 168.76 L333.07 168.94 L334.46 169.12 L335.86 169.31 L337.25 169.48 L338.65 169.66 L340.05 169.83 L341.44 170.01 L342.84 170.18 L344.24 170.34 L345.63 170.51 L347.03 170.67 L348.43 170.83 L349.82 170.99 L351.22 171.15 L352.61 171.31 L354.01 171.46 L355.41 171.61 L356.80 171.76 L358.20 171.91 L359.60 172.06 L360.99 172.20 L362.39 172.34 L363.79 172.48 L365.18 172.62 L366.58 172.76 L367.97 172.90 L369.37 173.03 L370.77 173.17 L372.16 173.30 L373.56 173.43 L374.96 173.56 L376.35 173.68 L377.75 173.81 L379.14 173.93 L380.54 174.05 L381.94 174.17 L383.33 174.29 L384.73 174.41 L386.13 174.53 L387.52 174.64 L388.92 174.76 L390.32 174.87 L391.71 174.98 L393.11 175.09 L394.50 175.20 L395.90 175.31 L397.30 175.42 L398.69 175.52 L400.09 175.63 L401.49 175.73 L402.88 175.83 L404.28 175.93 L405.67 176.03 L407.07 176.13 L408.47 176.23 L409.86 176.32 L411.26 176.42 L412.66 176.51 L414.05 176.60 L415.45 176.70 L416.85 176.79 L418.24 176.88 L419.64 176.97 L421.03 177.05 L422.43 177.14 L423.83 177.23 L425.22 177.31 L426.62 177.40 L428.02 177.48 L429.41 177.56 L430.81 177.64 L432.21 177.72 L433.60 177.80 L435.00 177.88 L436.39 177.96 L437.79 178.04 L439.19 178.11 L440.58 178.19 L441.98 178.26 L443.38 178.34 L444.77 178.41 L446.17 178.48 L447.56 178.56 L448.96 178.63 L450.36 178.70 L451.75 178.77 L453.15 178.83 L454.55 178.90 L455.94 178.97 L457.34 179.04 L458.74 179.10 L460.13 179.17 L461.53 179.23 L462.92 179.30 L464.32 179.36 L465.72 179.42 L467.11 179.48 L468.51 179.54 L469.91 179.60 L471.30 179.66 L472.70 179.72 L474.09 179.78 L475.49 179.84 L476.89 179.90 L478.28 179.95 L479.68 180.01 L481.08 180.07 L482.47 180.12 L483.87 180.18 L485.27 180.23 L486.66 180.28 L488.06 180.34 L489.45 180.39 L490.85 180.44 L492.25 180.49 L493.64 180.54 L495.04 180.59 L496.44 180.64 L497.83 180.69 L499.23 180.74 L500.63 180.79 L502.02 180.84 L503.42 180.88 L504.81 180.93 L506.21 180.98 L507.61 181.02 L509.00 181.07 L510.40 181.11 L511.80 181.16 L513.19 181.20 L514.59 181.25 L515.98 181.29 L517.38 181.33 L518.78 181.38 L520.17 181.42 L521.57 181.46 L522.97 181.50 L524.36 181.54 L525.76 181.58 L527.16 181.62 L528.55 181.66 L529.95 181.70 L531.34 181.74 L532.74 181.78 L534.14 181.82 L535.53 181.85 L536.93 181.89 L538.33 181.93 L539.72 181.96 L541.12 182.00 L542.51 182.04 L543.91 182.07 L545.31 182.11 L546.70 182.14 L548.10 182.18 L549.50 182.21 L550.89 182.24 L552.29 182.28 L553.69 182.31 L555.08 182.34 L556.48 182.38 L557.87 182.41 L559.27 182.44 L560.67 182.47 L562.06 182.50 L563.46 182.54 L564.86 182.57 L566.25 182.60 L567.65 182.63 L569.05 182.66 L570.44 182.69 L571.84 182.72 L573.23 182.75 L574.63 182.77 L576.03 182.80 L577.42 182.83 L578.82 182.86 L580.22 182.89 L581.61 182.91 L583.01 182.94 L584.40 182.97 L585.80 182.99 L587.20 183.02 L588.59 183.05 L589.99 183.07 L591.39 183.10 L592.78 183.12 L594.18 183.15 L595.58 183.17 L596.97 183.20" fill="none" stroke="#0000ff" stroke-width="1.75" stroke-linejoin="round"/>
<path d="M60.41 330.12 L60.71 322.37 L61.01 314.84 L61.30 307.53 L61.60 300.42 L61.90 293.52 L62.20 286.81 L62.50 280.30 L62.80 273.97 L63.09 267.82 L63.39 261.84 L63.69 256.03 L63.99 250.39 L64.29 244.91 L64.59 239.59 L64.89 234.42 L65.18 229.39 L65.48 224.51 L65.78 219.77 L66.08 215.16 L66.38 210.68 L66.68 206.34 L66.97 202.11 L67.27 198.01 L67.57 194.02 L67.87 190.15 L68.17 186.39 L68.47 182.74 L68.76 179.20 L69.06 175.75 L69.36 172.41 L69.66 169.16 L69.96 166.01 L70.26 162.95 L70.55 159.98 L70.85 157.09 L71.15 154.29 L71.45 151.58 L71.75 148.94 L72.05 146.38 L72.35 143.90 L72.64 141.49 L72.94 139.15 L73.24 136.89 L73.54 134.69 L73.84 132.56 L74.14 130.49 L74.43 128.49 L74.73 126.55 L75.03 124.66 L75.33 122.84 L75.63 121.07 L75.93 119.36 L76.22 117.70 L76.52 116.10 L76.82 114.55 L77.12 113.04 L77.42 111.59 L77.72 110.18 L78.01 108.82 L78.31 107.50 L78.61 106.23 L78.91 105.00 L79.21 103.81 L79.51 102.66 L79.81 101.55 L80.10 100.48 L80.40 99.45 L80.70 98.45 L81.00 97.49 L81.30 96.56 L81.60 95.67 L81.89 94.81 L82.19 93.99 L82.49 93.19 L82.79 92.43 L83.09 91.69 L83.39 90.99 L83.68 90.31 L83.98 89.66 L84.28 89.04 L84.58 88.44 L84.88 87.87 L85.18 87.32 L85.47 86.80 L85.77 86.30 L86.07 85.83 L86.37 85.38 L86.67 84.95 L86.97 84.54 L87.27 84.15 L87.56 83.78 L87.86 83.43 L88.16 83.10 L88.46 82.80 L88.76 82.50 L89.06 82.23 L89.35 81.97 L89.65 81.74 L89.95 81.51 L90.25 81.31 L90.55 81.12 L90.85 80.94 L91.14 80.78 L91.44 80.64 L91.74 80.51 L92.04 80.39 L92.34 80.29 L92.64 80.20 L92.93 80.12 L93.23 80.05 L93.53 80.00 L93.83 79.96 L94.13 79.93 L94.43 79.91 L94.73 79.91 L95.02 79.91 L95.32 79.92 L95.62 79.95 L95.92 79.98 L96.22 80.03 L96.52 80.08 L96.81 80.14 L97.11 80.21 L97.41 80.29 L97.71 80.38 L98.01 80.48 L98.31 80.58 L98.60 80.70 L98.90 80.82 L99.20 80.95 L99.50 81.08 L99.80 81.22 L100.10 81.37 L100.39 81.53 L100.69 81.69 L100.99 81.86 L101.29 82.03 L101.59 82.21 L101.89 82.40 L102.19 82.59 L102.48 82.79 L102.78 82.99 L103.08 83.20 L103.38 83.41 L103.68 83.63 L103.98 83.85 L104.27 84.07 L104.57 84.31 L104.87 84.54 L105.17 84.78 L105.47 85.02 L105.77 85.27 L106.06 85.52 L106.36 85.78 L106.66 86.04 L106.96 86.30 L107.26 86.57 L107.56 86.84 L107.85 87.11 L108.15 87.38 L108.45 87.66 L108.75 87.94 L109.05 88.23 L109.35 88.52 L109.64 88.81 L109.94 89.10 L110.24 89.39 L110.54 89.69 L110.84 89.99 L111.14 90.29 L111.44 90.59 L111.73 90.90 L112.03 91.21 L112.33 91.52 L112.63 91.83 L112.93 92.14 L113.23 92.46 L113.52 92.77 L113.82 93.09 L114.12 93.41 L114.42 93.73 L114.72 94.05 L115.02 94.38 L115.31 94.70 L115.61 95.03 L115.91 95.36 L116.21 95.69 L116.51 96.01 L116.81 96.35 L117.10 96.68 L117.40 97.01 L117.70 97.34 L118.00 97.68 L118.30 98.01 L118.60 98.35 L118.90 98.68 L119.19 99.02 L119.49 99.36 L119.79 99.70 L120.09 100.04 L120.39 100.37 L120.69 100.71 L120.98 101.05 L121.28 101.39 L121.58 101.73 L121.88 102.08 L122.18 102.42 L122.48 102.76 L122.77 103.10 L123.07 103.44 L123.37 103.78 L123.67 104.13 L123.97 104.47 L124.27 104.81 L124.56 105.15 L124.86 105.49 L125.16 105.84 L125.46 106.18 L125.76 106.52 L126.06 106.86 L126.36 107.20 L126.65 107.55 L126.95 107.89 L127.25 108.23 L127.55 108.57 L127.85 108.91 L128.15 109.25 L128.44 109.59 L128.74 109.93 L129.04 110.27 L129.34 110.61 L129.64 110.95 L129.94 111.29 L130.23 111.63 L130.53 111.96 L130.83 112.30 L131.13 112.64 L131.43 112.98 L131.73 113.31 L132.02 113.65 L132.32 113.98 L132.62 114.32 L132.92 114.65 L133.22 114.98 L133.52 115.32 L133.82 115.65 L134.11 115.98 L134.41 116.31 L134.71 116.64 L135.01 116.97 L135.31 117.30 L135.61 117.63 L135.90 117.96 L136.20 118.29 L136.50 118.61 L136.80 118.94 L137.10 119.27 L137.40 119.59 L137.69 119.91 L137.99 120.24 L138.29 120.56 L138.59 120.88 L138.89 121.20 L139.19 121.52 L139.48 121.84 L139.78 122.16 L140.08 122.48 L140.38 122.80 L140.68 123.12 L140.98 123.43 L141.28 123.75 L141.57 124.06 L141.87 124.37 L142.17 124.69 L142.47 125.00 L142.77 125.31 L143.07 125.62 L143.36 125.93 L143.66 126.24 L143.96 126.55 L144.26 126.85 L144.56 127.16 L144.86 127.47 L145.15 127.77 L145.45 128.08 L145.75 128.38 L146.05 128.68 L146.35 128.98 L146.65 129.28 L146.94 129.58 L147.24 129.88 L147.54 130.18 L147.84 130.47 L148.14 130.77 L148.44 131.07 L148.74 131.36 L149.03 131.65 L149.33 131.95 L149.63 132.24 L149.93 132.53 L150.23 132.82 L150.53 133.11 L150.82 133.40 L151.12 133.68 L151.42 133.97 L151.72 134.26 L152.02 134.54 L152.32 134.83 L152.61 135.11 L152.91 135.39 L153.21 135.67 L153.51 135.95 L153.81 136.23 L154.11 136.51 L154.40 136.79 L154.70 137.06 L155.00 137.34 L155.30 137.61 L155.60 137.89 L155.90 138.16 L156.19 138.43 L156.49 138.71 L156.79 138.98 L157.09 139.25 L157.39 139.52 L157.69 139.78 L157.99 140.05 L158.28 140.32 L158.58 140.58 L158.88 140.85 L159.18 141.11 L159.48 141.37 L159.78 141.63 L160.07 141.89 L160.37 142.15 L160.67 142.41 L160.97 142.67 L161.27 142.93 L161.57 143.19 L161.86 143.44 L162.16 143.70 L162.46 143.95 L162.76 144.20 L163.06 144.46 L163.36 144.71 L163.65 144.96 L163.95 145.21 L164.25 145.46 L164.55 145.70 L164.85 145.95 L165.15 146.20 L165.45 146.44 L165.74 146.69 L166.04 146.93 L166.34 147.17 L166.64 147.41 L166.94 147.66 L167.24 147.90 L167.53 148.14 L167.83 148.37 L168.13 148.61 L168.43 148.85 L168.73 149.08 L169.03 149.32 L169.32 149.55 L169.62 149.79 L169.92 150.02 L170.22 150.25 L170.52 150.48 L170.82 150.71 L171.11 150.94 L171.41 151.17 L171.71 151.40 L172.01 151.63 L172.31 151.85 L172.61 152.08 L172.91 152.30 L173.20 152.53 L173.50 152.75 L173.80 152.97 L174.10 153.19 L174.40 153.41 L174.70 153.63 L174.99 153.85 L175.29 154.07 L175.59 154.29 L175.89 154.50 L176.19 154.72 L176.49 154.94 L176.78 155.15 L177.08 155.36 L177.38 155.58 L177.68 155.79 L177.98 156.00 L178.28 156.21 L178.57 156.42 L178.87 156.63 L179.17 156.84 L179.47 157.04 L180.87 158.00 L182.26 158.95 L183.66 159.88 L185.06 160.79 L186.45 161.69 L187.85 162.57 L189.24 163.44 L190.64 164.29 L192.04 165.13 L193.43 165.95 L194.83 166.76 L196.23 167.56 L197.62 168.34 L199.02 169.11 L200.41 169.86 L201.81 170.61 L203.21 171.34 L204.60 172.05 L206.00 172.76 L207.40 173.45 L208.79 174.13 L210.19 174.81 L211.59 175.46 L212.98 176.11 L214.38 176.75 L215.77 177.38 L217.17 177.99 L218.57 178.60 L219.96 179.19 L221.36 179.78 L222.76 180.35 L224.15 180.92 L225.55 181.47 L226.95 182.02 L228.34 182.56 L229.74 183.09 L231.13 183.61 L232.53 184.12 L233.93 184.62 L235.32 185.12 L236.72 185.60 L238.12 186.08 L239.51 186.55 L240.91 187.02 L242.30 187.47 L243.70 187.92 L245.10 188.36 L246.49 188.79 L247.89 189.22 L249.29 189.64 L250.68 190.05 L252.08 190.46 L253.48 190.86 L254.87 191.25 L256.27 191.64 L257.66 192.02 L259.06 192.39 L260.46 192.76 L261.85 193.12 L263.25 193.48 L264.65 193.83 L266.04 194.18 L267.44 194.52 L268.83 194.85 L270.23 195.18 L271.63 195.50 L273.02 195.82 L274.42 196.14 L275.82 196.45 L277.21 196.75 L278.61 197.05 L280.01 197.35 L281.40 197.64 L282.80 197.92 L284.19 198.20 L285.59 198.48 L286.99 198.75 L288.38 199.02 L289.78 199.29 L291.18 199.55 L292.57 199.80 L293.97 200.05 L295.37 200.30 L296.76 200.55 L298.16 200.79 L299.55 201.03 L300.95 201.26 L302.35 201.49 L303.74 201.72 L305.14 201.94 L306.54 202.16 L307.93 202.37 L309.33 202.59 L310.72 202.80 L312.12 203.00 L313.52 203.21 L314.91 203.41 L316.31 203.61 L317.71 203.80 L319.10 203.99 L320.50 204.18 L321.90 204.37 L323.29 204.55 L324.69 204.73 L326.08 204.91 L327.48 205.08 L328.88 205.25 L330.27 205.42 L331.67 205.59 L333.07 205.76 L334.46 205.92 L335.86 206.08 L337.25 206.24 L338.65 206.39 L340.05 206.55 L341.44 206.70 L342.84 206.84 L344.24 206.99 L345.63 207.13 L347.03 207.28 L348.43 207.42 L349.82 207.55 L351.22 207.69 L352.61 207.82 L354.01 207.96 L355.41 208.09 L356.80 208.21 L358.20 208.34 L359.60 208.46 L360.99 208.59 L362.39 208.71 L363.79 208.83 L365.18 208.94 L366.58 209.06 L367.97 209.17 L369.37 209.28 L370.77 209.40 L372.16 209.50 L373.56 209.61 L374.96 209.72 L376.35 209.82 L377.75 209.92 L379.14 210.02 L380.54 210.12 L381.94 210.22 L383.33 210.32 L384.73 210.41 L386.13 210.51 L387.52 210.60 L388.92 210.69 L390.32 210.78 L391.71 210.87 L393.11 210.96 L394.50 211.04 L395.90 211.13 L397.30 211.21 L398.69 211.29 L400.09 211.37 L401.49 211.45 L402.88 211.53 L404.28 211.61 L405.67 211.69 L407.07 211.76 L408.47 211.84 L409.86 211.91 L411.26 211.98 L412.66 212.05 L414.05 212.12 L415.45 212.19 L416.85 212.26 L418.24 212.32 L419.64 212.39 L421.03 212.45 L422.43 212.52 L423.83 212.58 L425.22 212.64 L426.62 212.70 L428.02 212.76 L429.41 212.82 L430.81 212.88 L432.21 212.94 L433.60 212.99 L435.00 213.05 L436.39 213.10 L437.79 213.16 L439.19 213.21 L440.58 213.26 L441.98 213.32 L443.38 213.37 L444.77 213.42 L446.17 213.47 L447.56 213.51 L448.96 213.56 L450.36 213.61 L451.75 213.65 L453.15 213.70 L454.55 213.74 L455.94 213.79 L457.34 213.83 L458.74 213.87 L460.13 213.92 L461.53 213.96 L462.92 214.00 L464.32 214.04 L465.72 214.08 L467.11 214.12 L468.51 214.15 L469.91 214.19 L471.30 214.23 L472.70 214.27 L474.09 214.30 L475.49 214.34 L476.89 214.37 L478.28 214.40 L479.68 214.44 L481.08 214.47 L482.47 214.50 L483.87 214.54 L485.27 214.57 L486.66 214.60 L488.06 214.63 L489.45 214.66 L490.85 214.69 L492.25 214.71 L493.64 214.74 L495.04 214.77 L496.44 214.80 L497.83 214.82 L499.23 214.85 L500.63 214.88 L502.02 214.90 L503.42 214.93 L504.81 214.95 L506.21 214.98 L507.61 215.00 L509.00 215.02 L510.40 215.04 L511.80 215.07 L513.19 215.09 L514.59 215.11 L515.98 215.13 L517.38 215.15 L518.78 215.17 L520.17 215.19 L521.57 215.21 L522.97 215.23 L524.36 215.25 L525.76 215.27 L527.16 215.29 L528.55 215.30 L529.95 215.32 L531.34 215.34 L532.74 215.35 L534.14 215.37 L535.53 215.39 L536.93 215.40 L538.33 215.42 L539.72 215.43 L541.12 215.45 L542.51 215.46 L543.91 215.47 L545.31 215.49 L546.70 215.50 L548.10 215.51 L549.50 215.53 L550.89 215.54 L552.29 215.55 L553.69 215.56 L555.08 215.57 L556.48 215.59 L557.87 215.60 L559.27 215.61 L560.67 215.62 L562.06 215.63 L563.46 215.64 L564.86 215.65 L566.25 215.66 L567.65 215.67 L569.05 215.67 L570.44 215.68 L571.84 215.69 L573.23 215.70 L574.63 215.71 L576.03 215.71 L577.42 215.72 L578.82 215.73 L580.22 215.74 L581.61 215.74 L583.01 215.75 L584.40 215.75 L585.80 215.76 L587.20 215.77 L588.59 215.77 L589.99 215.78 L591.39 215.78 L592.78 215.79 L594.18 215.79 L595.58 215.80 L596.97 215.80" fill="none" stroke="#ff0000" stroke-width="1.75" stroke-linejoin="round"/>
<line x1="49.00" y1="1.50" x2="608.00" y2="1.50" stroke="#7c7c7c" stroke-width="1"/>
<line x1="49.00" y1="346.30" x2="608.00" y2="346.30" stroke="#858585" stroke-width="1"/>
<line x1="49.35" y1="1.50" x2="49.35" y2="346.30" stroke="#8a8a8a" stroke-width="1"/>
<line x1="607.50" y1="1.50" x2="607.50" y2="346.30" stroke="#858585" stroke-width="1"/>
<path d="M60.50 346.30v-2.40M60.50 1.50v2.40" fill="none" stroke="#7a7a7a" stroke-width="1"/>
<path d="M90.50 346.30v-2.40M90.50 1.50v2.40" fill="none" stroke="#7a7a7a" stroke-width="1"/>
<path d="M119.90 346.30v-4.30M119.90 1.50v4.30" fill="none" stroke="#a8a8a8" stroke-width="1"/>
<path d="M149.50 346.30v-2.40M149.50 1.50v2.40" fill="none" stroke="#7a7a7a" stroke-width="1"/>
<path d="M179.50 346.30v-2.40M179.50 1.50v2.40" fill="none" stroke="#7a7a7a" stroke-width="1"/>
<path d="M209.50 346.30v-2.40M209.50 1.50v2.40" fill="none" stroke="#7a7a7a" stroke-width="1"/>
<path d="M239.05 346.30v-4.30M239.05 1.50v4.30" fill="none" stroke="#a8a8a8" stroke-width="1"/>
<path d="M268.50 346.30v-2.40M268.50 1.50v2.40" fill="none" stroke="#7a7a7a" stroke-width="1"/>
<path d="M298.50 346.30v-2.40M298.50 1.50v2.40" fill="none" stroke="#7a7a7a" stroke-width="1"/>
<path d="M328.50 346.30v-2.40M328.50 1.50v2.40" fill="none" stroke="#7a7a7a" stroke-width="1"/>
<path d="M358.19 346.30v-4.30M358.19 1.50v4.30" fill="none" stroke="#a8a8a8" stroke-width="1"/>
<path d="M387.50 346.30v-2.40M387.50 1.50v2.40" fill="none" stroke="#7a7a7a" stroke-width="1"/>
<path d="M417.50 346.30v-2.40M417.50 1.50v2.40" fill="none" stroke="#7a7a7a" stroke-width="1"/>
<path d="M447.50 346.30v-2.40M447.50 1.50v2.40" fill="none" stroke="#7a7a7a" stroke-width="1"/>
<path d="M477.35 346.30v-4.30M477.35 1.50v4.30" fill="none" stroke="#a8a8a8" stroke-width="1"/>
<path d="M507.50 346.30v-2.40M507.50 1.50v2.40" fill="none" stroke="#7a7a7a" stroke-width="1"/>
<path d="M536.50 346.30v-2.40M536.50 1.50v2.40" fill="none" stroke="#7a7a7a" stroke-width="1"/>
<path d="M566.50 346.30v-2.40M566.50 1.50v2.40" fill="none" stroke="#7a7a7a" stroke-width="1"/>
<path d="M596.50 346.30v-4.30M596.50 1.50v4.30" fill="none" stroke="#858585" stroke-width="1"/>
<path d="M49.50 337.50h2.40" fill="none" stroke="#7a7a7a" stroke-width="1"/>
<path d="M607.50 337.50h-2.40" fill="none" stroke="#9c9c9c" stroke-width="1"/>
<path d="M49.50 322.50h2.40" fill="none" stroke="#7a7a7a" stroke-width="1"/>
<path d="M607.50 322.50h-2.40" fill="none" stroke="#9c9c9c" stroke-width="1"/>
<path d="M49.50 307.50h4.00" fill="none" stroke="#aaaaaa" stroke-width="1"/>
<path d="M607.50 307.50h-4.00" fill="none" stroke="#aaaaaa" stroke-width="1"/>
<path d="M49.50 292.50h2.40" fill="none" stroke="#7a7a7a" stroke-width="1"/>
<path d="M607.50 292.50h-2.40" fill="none" stroke="#9c9c9c" stroke-width="1"/>
<path d="M49.50 277.50h2.40" fill="none" stroke="#7a7a7a" stroke-width="1"/>
<path d="M607.50 277.50h-2.40" fill="none" stroke="#9c9c9c" stroke-width="1"/>
<path d="M49.50 262.50h2.40" fill="none" stroke="#7a7a7a" stroke-width="1"/>
<path d="M607.50 262.50h-2.40" fill="none" stroke="#9c9c9c" stroke-width="1"/>
<path d="M49.50 247.50h2.40" fill="none" stroke="#7a7a7a" stroke-width="1"/>
<path d="M607.50 247.50h-2.40" fill="none" stroke="#9c9c9c" stroke-width="1"/>
<path d="M49.50 231.50h4.00" fill="none" stroke="#9c9c9c" stroke-width="1"/>
<path d="M607.50 231.50h-4.00" fill="none" stroke="#9c9c9c" stroke-width="1"/>
<path d="M49.50 216.50h2.40" fill="none" stroke="#7a7a7a" stroke-width="1"/>
<path d="M607.50 216.50h-2.40" fill="none" stroke="#9c9c9c" stroke-width="1"/>
<path d="M49.50 201.50h2.40" fill="none" stroke="#7a7a7a" stroke-width="1"/>
<path d="M607.50 201.50h-2.40" fill="none" stroke="#9c9c9c" stroke-width="1"/>
<path d="M49.50 186.50h2.40" fill="none" stroke="#7a7a7a" stroke-width="1"/>
<path d="M607.50 186.50h-2.40" fill="none" stroke="#9c9c9c" stroke-width="1"/>
<path d="M49.50 171.50h2.40" fill="none" stroke="#7a7a7a" stroke-width="1"/>
<path d="M607.50 171.50h-2.40" fill="none" stroke="#9c9c9c" stroke-width="1"/>
<path d="M49.50 156.50h4.00" fill="none" stroke="#7a7a7a" stroke-width="1"/>
<path d="M607.50 156.50h-4.00" fill="none" stroke="#7a7a7a" stroke-width="1"/>
<path d="M49.50 141.50h2.40" fill="none" stroke="#7a7a7a" stroke-width="1"/>
<path d="M607.50 141.50h-2.40" fill="none" stroke="#9c9c9c" stroke-width="1"/>
<path d="M49.50 126.50h2.40" fill="none" stroke="#7a7a7a" stroke-width="1"/>
<path d="M607.50 126.50h-2.40" fill="none" stroke="#9c9c9c" stroke-width="1"/>
<path d="M49.50 111.50h2.40" fill="none" stroke="#7a7a7a" stroke-width="1"/>
<path d="M607.50 111.50h-2.40" fill="none" stroke="#9c9c9c" stroke-width="1"/>
<path d="M49.50 96.50h2.40" fill="none" stroke="#7a7a7a" stroke-width="1"/>
<path d="M607.50 96.50h-2.40" fill="none" stroke="#9c9c9c" stroke-width="1"/>
<path d="M49.50 81.50h4.00" fill="none" stroke="#9c9c9c" stroke-width="1"/>
<path d="M607.50 81.50h-4.00" fill="none" stroke="#9c9c9c" stroke-width="1"/>
<path d="M49.50 66.50h2.40" fill="none" stroke="#7a7a7a" stroke-width="1"/>
<path d="M607.50 66.50h-2.40" fill="none" stroke="#9c9c9c" stroke-width="1"/>
<path d="M49.50 50.50h2.40" fill="none" stroke="#7a7a7a" stroke-width="1"/>
<path d="M607.50 50.50h-2.40" fill="none" stroke="#9c9c9c" stroke-width="1"/>
<path d="M49.50 35.50h2.40" fill="none" stroke="#7a7a7a" stroke-width="1"/>
<path d="M607.50 35.50h-2.40" fill="none" stroke="#9c9c9c" stroke-width="1"/>
<path d="M49.50 20.50h2.40" fill="none" stroke="#7a7a7a" stroke-width="1"/>
<path d="M607.50 20.50h-2.40" fill="none" stroke="#9c9c9c" stroke-width="1"/>
<path d="M49.50 5.50h4.00" fill="none" stroke="#c4c4c4" stroke-width="1"/>
<path d="M607.50 5.50h-4.00" fill="none" stroke="#c4c4c4" stroke-width="1"/>
<line x1="405.5" y1="70.00" x2="426.8" y2="70.00" stroke="#00ff00" stroke-width="1.6"/>
<line x1="405.5" y1="92.50" x2="426.8" y2="92.50" stroke="#800080" stroke-width="1.6"/>
<line x1="405.5" y1="115.20" x2="426.8" y2="115.20" stroke="#0000ff" stroke-width="1.6"/>
<line x1="405.5" y1="137.80" x2="426.8" y2="137.80" stroke="#ff0000" stroke-width="1.6"/>
</svg>
<div id="tx">
<div class="t yl" style="top:0.55px">0.15</div>
<div class="t yl" style="top:75.95px">0.10</div>
<div class="t yl" style="top:151.35px">0.05</div>
<div class="t yl" style="top:226.75px">0.00</div>
<div class="t yl" style="top:302.15px">−0.05</div>
<div class="t xl" style="left:104.90px;top:350.00px">2</div>
<div class="t xl" style="left:224.05px;top:350.00px">4</div>
<div class="t xl" style="left:343.19px;top:350.00px">6</div>
<div class="t xl" style="left:462.35px;top:350.00px">8</div>
<div class="t xl" style="left:581.50px;top:350.00px">10</div>
<div class="t" style="font-size:11px;left:326px;top:369px">r</div>
<div class="t" style="font-size:10.5px;left:0;top:0;transform-origin:0 0;transform:translate(0.7px,182.75px) rotate(-90deg)"><i>V</i><span style="display:inline-block;font-size:9px;position:relative;top:3.3px;transform:scale(0.99,1.13);transform-origin:0 85%">eff</span></div>
<div class="t lg" style="top:64.40px">w=−1/3</div>
<div class="t lg" style="top:86.90px">w=−1/2</div>
<div class="t lg" style="top:109.60px">w=−2/3</div>
<div class="t lg" style="top:132.20px">w=−5/6</div>
</div>
</body></html>
